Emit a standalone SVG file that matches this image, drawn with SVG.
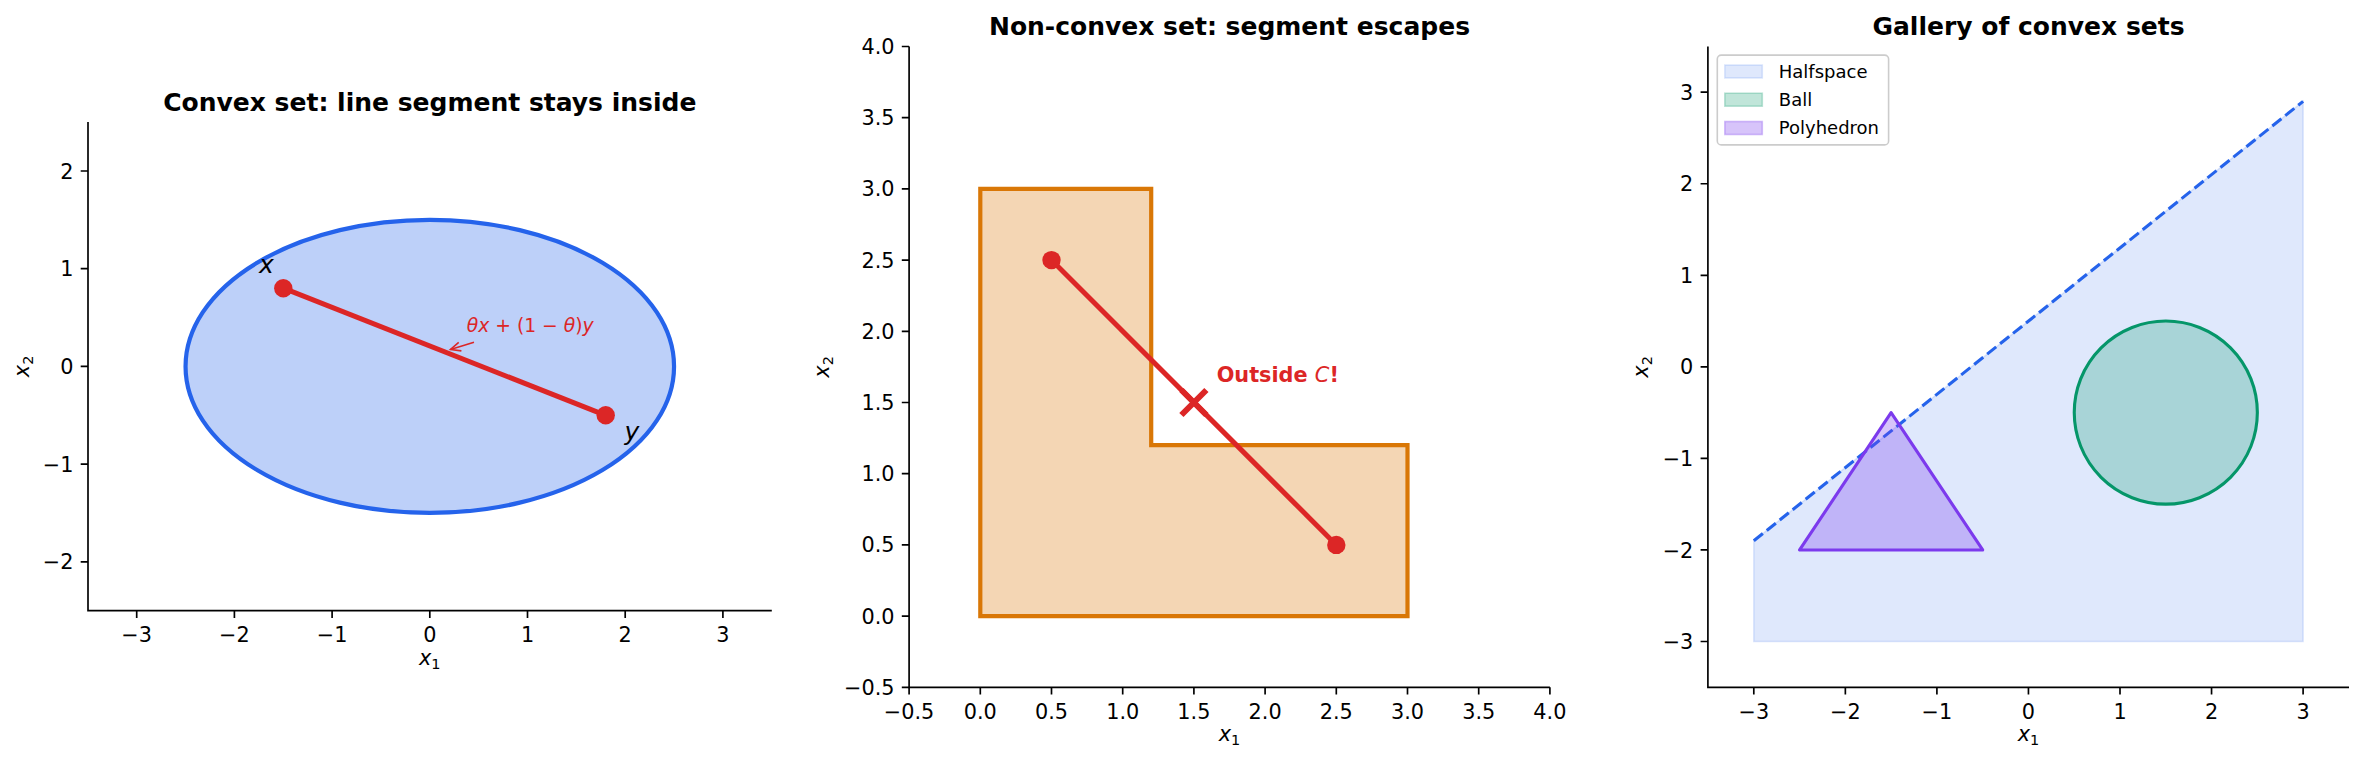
<svg xmlns="http://www.w3.org/2000/svg" width="2363" height="765" viewBox="0 0 2363 765">
<style>
text{font-family:"DejaVu Sans","Liberation Sans",sans-serif;fill:#000}
.title{font-size:25px;font-weight:bold;text-anchor:middle}
.tx{font-size:20.8px;text-anchor:middle}
.ty{font-size:20.8px;text-anchor:end}
.lab{font-size:20.8px;text-anchor:middle}
.it{font-style:italic}
.sub{font-size:14.5px}
.spine{stroke:#000;stroke-width:1.67;fill:none}
.tick{stroke:#000;stroke-width:1.67}
.pt{fill:#dc2626}
.seg{stroke:#dc2626;stroke-width:5;fill:none}
.leg{font-size:18px}
</style>
<rect width="2363" height="765" fill="#fff"/>

<!-- Panel 1 -->
<g id="panel1">
  <text class="title" x="429.8" y="110.6">Convex set: line segment stays inside</text>
  <ellipse id="ellipse" cx="429.8" cy="366.4" rx="244.25" ry="146.55" fill="#2563eb" fill-opacity="0.3" stroke="#2563eb" stroke-width="4.2"/>
  <g id="segment1">
    <line class="seg" x1="283.3" y1="288.2" x2="605.7" y2="415.3"/>
    <circle class="pt" cx="283.3" cy="288.2" r="9.2"/>
    <circle class="pt" cx="605.7" cy="415.3" r="9.2"/>
  </g>
  <text class="it" x="259" y="272.5" font-size="25">x</text>
  <text class="it" x="624.5" y="440" font-size="25">y</text>
  <g id="annot1">
    <line x1="474" y1="342.3" x2="450.5" y2="349.5" stroke="#dc2626" stroke-width="1.6"/>
    <polyline points="461.4,350.9 450.5,349.5 458.7,342.3" fill="none" stroke="#dc2626" stroke-width="1.6"/>
    <text x="466.7" y="331.7" font-size="18.75" style="fill:#dc2626"><tspan class="it">θx</tspan> + (1 − <tspan class="it">θ</tspan>)<tspan class="it">y</tspan></text>
  </g>
  <g id="axes1">
    <path class="spine" d="M88,122.1 V610.7 H771.8"/>
    <path class="tick" d="M136.7,610.7v7.3M234.4,610.7v7.3M332.1,610.7v7.3M429.8,610.7v7.3M527.5,610.7v7.3M625.2,610.7v7.3M722.9,610.7v7.3M88,561.8h-7.3M88,464.1h-7.3M88,366.4h-7.3M88,268.7h-7.3M88,171h-7.3"/>
    <text class="tx" x="136.7" y="642">−3</text>
    <text class="tx" x="234.4" y="642">−2</text>
    <text class="tx" x="332.1" y="642">−1</text>
    <text class="tx" x="429.8" y="642">0</text>
    <text class="tx" x="527.5" y="642">1</text>
    <text class="tx" x="625.2" y="642">2</text>
    <text class="tx" x="722.9" y="642">3</text>
    <text class="ty" x="73.4" y="569.3">−2</text>
    <text class="ty" x="73.4" y="471.6">−1</text>
    <text class="ty" x="73.4" y="373.9">0</text>
    <text class="ty" x="73.4" y="276.2">1</text>
    <text class="ty" x="73.4" y="178.5">2</text>
    <text class="lab" x="429.8" y="665.3"><tspan class="it">x</tspan><tspan class="sub" dy="4">1</tspan></text>
    <text class="lab" transform="translate(28.5,366.4) rotate(-90)"><tspan class="it">x</tspan><tspan class="sub" dy="4">2</tspan></text>
  </g>
</g>

<!-- Panel 2 -->
<g id="panel2">
  <text class="title" x="1229.5" y="34.5">Non-convex set: segment escapes</text>
  <polygon id="lshape" points="980.3,616.1 1407.5,616.1 1407.5,445.2 1151.2,445.2 1151.2,188.9 980.3,188.9" fill="#d97706" fill-opacity="0.3" stroke="#d97706" stroke-width="4.2" stroke-linejoin="miter"/>
  <g id="segment2">
    <line class="seg" x1="1051.5" y1="260.1" x2="1336.3" y2="544.9"/>
    <circle class="pt" cx="1051.5" cy="260.1" r="9.2"/>
    <circle class="pt" cx="1336.3" cy="544.9" r="9.2"/>
  </g>
  <path id="xmark" d="M1181.4,390 L1206.4,415 M1181.4,415 L1206.4,390" stroke="#dc2626" stroke-width="6"/>
  <text x="1216.7" y="381.7" font-size="20.8" font-weight="bold" style="fill:#dc2626">Outside <tspan class="it" font-weight="normal">C</tspan>!</text>
  <g id="axes2">
    <path class="spine" d="M909.1,46.5 V687.3 H1549.9"/>
    <path class="tick" d="M909.1,687.3v7.3M980.3,687.3v7.3M1051.5,687.3v7.3M1122.7,687.3v7.3M1193.9,687.3v7.3M1265.1,687.3v7.3M1336.3,687.3v7.3M1407.5,687.3v7.3M1478.7,687.3v7.3M1549.9,687.3v7.3M909.1,687.3h-7.3M909.1,616.1h-7.3M909.1,544.9h-7.3M909.1,473.7h-7.3M909.1,402.5h-7.3M909.1,331.3h-7.3M909.1,260.1h-7.3M909.1,188.9h-7.3M909.1,117.7h-7.3M909.1,46.5h-7.3"/>
    <text class="tx" x="909.1" y="718.5">−0.5</text>
    <text class="tx" x="980.3" y="718.5">0.0</text>
    <text class="tx" x="1051.5" y="718.5">0.5</text>
    <text class="tx" x="1122.7" y="718.5">1.0</text>
    <text class="tx" x="1193.9" y="718.5">1.5</text>
    <text class="tx" x="1265.1" y="718.5">2.0</text>
    <text class="tx" x="1336.3" y="718.5">2.5</text>
    <text class="tx" x="1407.5" y="718.5">3.0</text>
    <text class="tx" x="1478.7" y="718.5">3.5</text>
    <text class="tx" x="1549.9" y="718.5">4.0</text>
    <text class="ty" x="894.5" y="694.8">−0.5</text>
    <text class="ty" x="894.5" y="623.6">0.0</text>
    <text class="ty" x="894.5" y="552.4">0.5</text>
    <text class="ty" x="894.5" y="481.2">1.0</text>
    <text class="ty" x="894.5" y="410">1.5</text>
    <text class="ty" x="894.5" y="338.8">2.0</text>
    <text class="ty" x="894.5" y="267.6">2.5</text>
    <text class="ty" x="894.5" y="196.4">3.0</text>
    <text class="ty" x="894.5" y="125.2">3.5</text>
    <text class="ty" x="894.5" y="54">4.0</text>
    <text class="lab" x="1229.5" y="741.2"><tspan class="it">x</tspan><tspan class="sub" dy="4">1</tspan></text>
    <text class="lab" transform="translate(829,366.9) rotate(-90)"><tspan class="it">x</tspan><tspan class="sub" dy="4">2</tspan></text>
  </g>
</g>

<!-- Panel 3 -->
<g id="panel3">
  <text class="title" x="2028.5" y="34.5">Gallery of convex sets</text>
  <polygon id="halfspace" points="1753.8,641.5 1753.8,540.8 2303.1,101.4 2303.1,641.5" fill="#2563eb" fill-opacity="0.15" stroke="#2563eb" stroke-opacity="0.15" stroke-width="1.6"/>
  <line id="hyperplane" x1="1753.8" y1="540.8" x2="2303.1" y2="101.4" stroke="#2563eb" stroke-width="3.1" stroke-dasharray="11.6,5"/>
  <circle id="ball" cx="2165.8" cy="412.6" r="91.55" fill="#059669" fill-opacity="0.25" stroke="#059669" stroke-width="3.1"/>
  <polygon id="polyhedron" points="1799.6,549.95 1982.7,549.95 1891.1,412.6" fill="#7c3aed" fill-opacity="0.3" stroke="#7c3aed" stroke-width="3.1" stroke-linejoin="round"/>
  <g id="legend">
    <rect x="1717.3" y="55.1" width="171.3" height="89.8" rx="4" fill="#fff" fill-opacity="0.8" stroke="#cccccc" stroke-width="1.6"/>
    <rect x="1724.8" y="65" width="37.5" height="13" fill="#2563eb" fill-opacity="0.15" stroke="#2563eb" stroke-opacity="0.15" stroke-width="1.6"/>
    <rect x="1724.8" y="93.2" width="37.5" height="13" fill="#059669" fill-opacity="0.25" stroke="#059669" stroke-opacity="0.25" stroke-width="1.6"/>
    <rect x="1724.8" y="121.5" width="37.5" height="13" fill="#7c3aed" fill-opacity="0.3" stroke="#7c3aed" stroke-opacity="0.3" stroke-width="1.6"/>
    <text class="leg" x="1778.8" y="77.8">Halfspace</text>
    <text class="leg" x="1778.8" y="106">Ball</text>
    <text class="leg" x="1778.8" y="134.4">Polyhedron</text>
  </g>
  <g id="axes3">
    <path class="spine" d="M1707.9,46.4 V687.3 H2349"/>
    <path class="tick" d="M1753.8,687.3v7.3M1845.35,687.3v7.3M1936.9,687.3v7.3M2028.45,687.3v7.3M2120,687.3v7.3M2211.55,687.3v7.3M2303.1,687.3v7.3M1707.9,641.5h-7.3M1707.9,549.95h-7.3M1707.9,458.4h-7.3M1707.9,366.85h-7.3M1707.9,275.3h-7.3M1707.9,183.75h-7.3M1707.9,92.2h-7.3"/>
    <text class="tx" x="1753.8" y="718.5">−3</text>
    <text class="tx" x="1845.35" y="718.5">−2</text>
    <text class="tx" x="1936.9" y="718.5">−1</text>
    <text class="tx" x="2028.45" y="718.5">0</text>
    <text class="tx" x="2120" y="718.5">1</text>
    <text class="tx" x="2211.55" y="718.5">2</text>
    <text class="tx" x="2303.1" y="718.5">3</text>
    <text class="ty" x="1693.3" y="649">−3</text>
    <text class="ty" x="1693.3" y="557.5">−2</text>
    <text class="ty" x="1693.3" y="465.9">−1</text>
    <text class="ty" x="1693.3" y="374.4">0</text>
    <text class="ty" x="1693.3" y="282.8">1</text>
    <text class="ty" x="1693.3" y="191.3">2</text>
    <text class="ty" x="1693.3" y="99.7">3</text>
    <text class="lab" x="2028.45" y="741.2"><tspan class="it">x</tspan><tspan class="sub" dy="4">1</tspan></text>
    <text class="lab" transform="translate(1648,366.9) rotate(-90)"><tspan class="it">x</tspan><tspan class="sub" dy="4">2</tspan></text>
  </g>
</g>
</svg>
